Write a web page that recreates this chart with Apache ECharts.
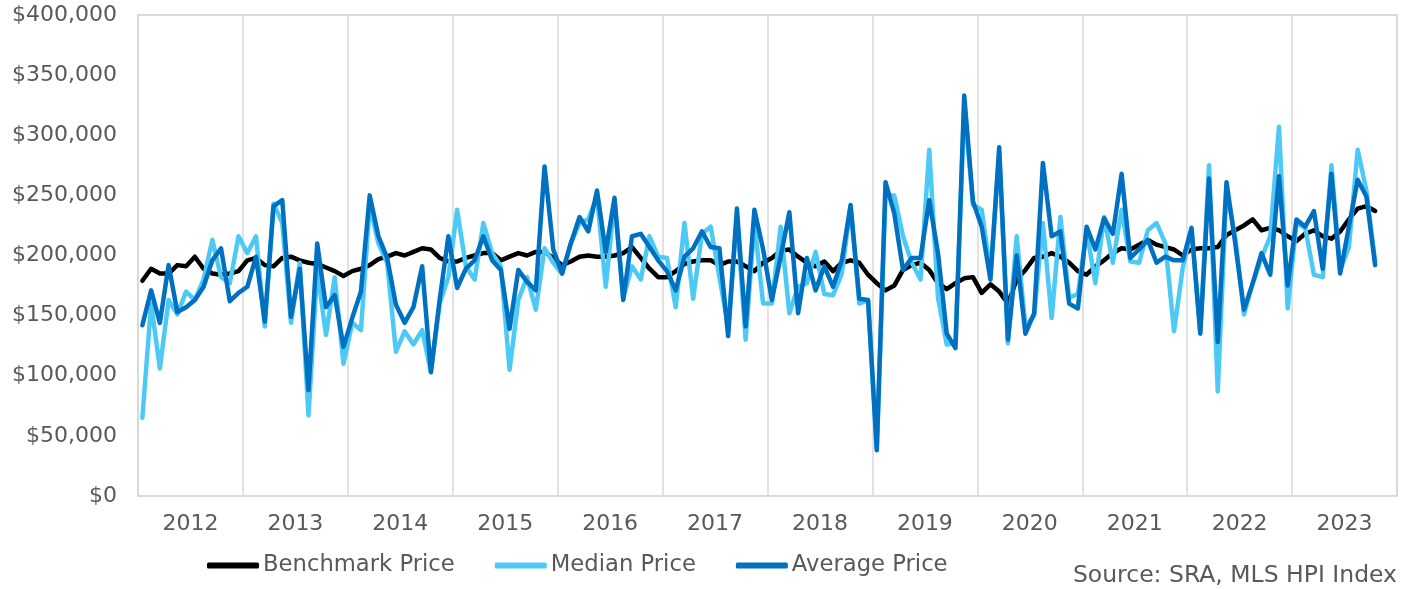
<!DOCTYPE html>
<html>
<head>
<meta charset="utf-8">
<title>Benchmark, Median and Average Price</title>
<script src="https://cdn.jsdelivr.net/npm/echarts@6/dist/echarts.min.js"></script>
<style>
  html, body { margin: 0; padding: 0; background: #fff; }
  #chart { width: 1406px; height: 589px; }
</style>
</head>
<body>
<div id="chart"></div>
<script>
// values in thousands of dollars, one per month from Jan 2012
const years = ['2012', '2013', '2014', '2015', '2016', '2017', '2018', '2019', '2020', '2021', '2022', '2023']

const benchmark = [
  179, 189, 185, 185, 192, 191, 199, 189, 185, 184, 185, 187,
  196, 198, 192, 191, 198, 199, 196, 194, 193, 190, 187, 183,
  187, 189, 192, 197, 199, 202, 200, 203, 206, 205, 198, 195,
  195, 198, 200, 202, 202, 196, 199, 202, 200, 203, 203, 198,
  192, 195, 199, 200, 199, 199, 200, 202, 207, 198, 189, 182,
  182, 187, 193, 195, 196, 196, 192, 195, 195, 191, 187, 194,
  198, 204, 205, 199, 194, 191, 195, 187, 194, 196, 194, 184,
  177, 171, 175, 188, 192, 194, 188, 177, 172, 177, 181, 182,
  169, 176, 170, 160, 180, 188, 198, 199, 202, 199, 194, 187,
  184, 191, 196, 202, 206, 205, 209, 213, 209, 207, 205, 200,
  205, 206, 206, 207, 217, 221, 225, 230, 221, 223, 221, 216,
  212, 218, 221, 216, 214, 220, 230, 239, 241, 237
]

const median = [
  65, 160, 106, 163, 151, 170, 163, 180, 213, 182, 177, 216,
  202, 216, 141, 243, 227, 144, 194, 67, 188, 134, 182, 110,
  144, 138, 242, 210, 194, 120, 137, 126, 138, 103, 160, 182,
  238, 191, 180, 227, 202, 191, 105, 163, 182, 155, 206, 194,
  185, 210, 227, 230, 249, 174, 246, 165, 191, 180, 216, 199,
  198, 157, 227, 164, 218, 224, 182, 141, 232, 130, 227, 160,
  160, 224, 152, 174, 177, 203, 168, 167, 185, 241, 160, 163,
  41, 250, 250, 216, 194, 180, 288, 165, 126, 127, 325, 242,
  238, 185, 285, 127, 216, 141, 150, 227, 148, 232, 165, 168,
  221, 177, 232, 194, 238, 195, 194, 221, 227, 210, 137, 190,
  221, 137, 275, 87, 255, 215, 151, 177, 198, 216, 307, 156,
  227, 223, 184, 182, 275, 188, 207, 288, 254, 195
]

const average = [
  142, 171, 144, 192, 153, 157, 163, 174, 196, 206, 162, 169,
  174, 199, 145, 241, 246, 149, 189, 88, 210, 157, 167, 124,
  148, 170, 250, 216, 198, 159, 144, 157, 191, 103, 163, 216,
  173, 189, 196, 216, 196, 188, 139, 188, 178, 171, 274, 205,
  185, 210, 232, 220, 254, 203, 248, 163, 216, 218, 207, 196,
  187, 171, 199, 206, 220, 207, 206, 133, 239, 141, 238, 205,
  163, 199, 236, 152, 198, 171, 191, 174, 196, 242, 164, 163,
  38, 261, 235, 188, 198, 198, 246, 202, 135, 123, 333, 245,
  224, 180, 290, 130, 200, 135, 152, 277, 216, 220, 160, 156,
  224, 205, 231, 218, 268, 198, 205, 213, 194, 199, 196, 196,
  223, 135, 264, 128, 261, 210, 155, 177, 202, 184, 266, 175,
  230, 224, 237, 189, 268, 185, 224, 263, 249, 192
]

const yTicks = [0, 50000, 100000, 150000, 200000, 250000, 300000, 350000, 400000]

const months = []
years.forEach(y => {
  for (let m = 1; m <= 12; m++) months.push(y + '-' + (m < 10 ? '0' + m : m))
})

const toDollars = arr => arr.map(v => v * 1000)
const font = 'DejaVu Sans'
const textColor = '#595959'

const chart = echarts.init(document.getElementById('chart'))

const option = {
  backgroundColor: '#fff',
  animation: false,
  textStyle: { fontFamily: font },
  grid: {
    left: 138, right: 9, top: 15, bottom: 93,
    show: true, borderColor: '#cfcfcf', borderWidth: 1.5
  },
  legend: {
    left: 202, top: 549,
    itemWidth: 52, itemHeight: 6, itemGap: 40,
    icon: 'roundRect',
    textStyle: { fontFamily: font, fontSize: 22.7, color: textColor, padding: [0, 0, 0, -1] },
    data: ['Benchmark Price', 'Median Price', 'Average Price']
  },
  graphic: [{
    type: 'text', right: 9, top: 564,
    style: { text: 'Source: SRA, MLS HPI Index', font: '23.5px "DejaVu Sans"', fill: textColor }
  }],
  xAxis: [
    {
      type: 'category', data: months, boundaryGap: true, show: false
    },
    {
      type: 'category', data: years, boundaryGap: true, position: 'bottom',
      axisLine: { show: false }, axisTick: { show: false },
      axisLabel: { fontFamily: font, fontSize: 22, color: textColor, margin: 17 },
      splitLine: { show: true, interval: 0, lineStyle: { color: '#d9d9d9', width: 1.5 } }
    }
  ],
  yAxis: {
    type: 'value',
    min: yTicks[0], max: yTicks[yTicks.length - 1], interval: yTicks[1] - yTicks[0],
    axisLine: { show: false }, axisTick: { show: false }, splitLine: { show: false },
    axisLabel: {
      fontFamily: font, fontSize: 22, color: textColor, margin: 21,
      formatter: v => '$' + v.toLocaleString('en-US')
    }
  },
  series: [
    {
      name: 'Benchmark Price', type: 'line', xAxisIndex: 0, symbol: 'none',
      data: toDollars(benchmark), color: '#000000',
      lineStyle: { width: 4.5, join: 'round', cap: 'round' }
    },
    {
      name: 'Median Price', type: 'line', xAxisIndex: 0, symbol: 'none',
      data: toDollars(median), color: '#4DC9F5',
      lineStyle: { width: 4.5, join: 'round', cap: 'round' }
    },
    {
      name: 'Average Price', type: 'line', xAxisIndex: 0, symbol: 'none',
      data: toDollars(average), color: '#0070C0',
      lineStyle: { width: 4.5, join: 'round', cap: 'round' }
    }
  ]
}
chart.setOption(option)
</script>
</body>
</html>
